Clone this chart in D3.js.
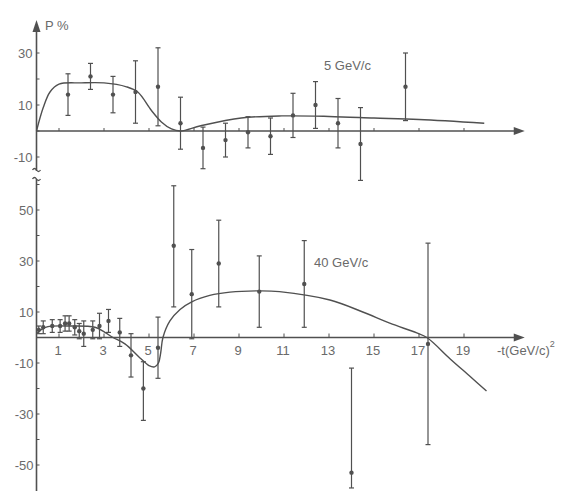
<!DOCTYPE html>
<html><head><meta charset="utf-8">
<script src="https://cdn.jsdelivr.net/npm/d3@7"></script>
<style>
html,body{margin:0;padding:0;background:#fff;}
text{font-family:"Liberation Sans","DejaVu Sans",sans-serif;fill:#6a6a6a;}
</style></head>
<body>
<svg id="c" width="561" height="491"></svg>
<script>
// ---- data: 5 GeV/c (upper panel)
const upperT   = [1.4, 2.4, 3.4, 4.4, 5.4, 6.4, 7.4, 8.4, 9.4, 10.4, 11.4, 12.4, 13.4, 14.4, 16.4];
const upperP   = [14, 21, 14, 15, 17, 3, -6.5, -3.5, -0.5, -2, 6, 10, 3, -5, 17];
const upperErr = [8, 5, 7, 12, 15, 10, 8, 6.5, 6, 7, 8.5, 9, 9.5, 14, 13];
const upperCurveT = [0, 0.3, 0.6, 1, 2, 3, 4, 4.5, 5.1, 5.55, 6, 6.4, 7.3, 9.1, 10.9, 13, 15, 17, 19.9];
const upperCurveP = [0, 9, 15, 18, 18.5, 18.5, 17, 15, 8, 3.5, 0.8, 0, 2, 5, 5.8, 5.6, 5, 4.4, 3];
// ---- data: 40 GeV/c (lower panel)
const lowerT     = [0.1, 0.3, 0.7, 1.05, 1.27, 1.45, 1.7, 1.9, 2.1, 2.5, 2.8, 3.2, 3.7, 4.2, 4.75, 5.4, 6.1, 6.9, 8.1, 9.9, 11.9, 14.0, 17.4];
const lowerP     = [3, 4, 4.5, 4.5, 5.5, 5.5, 4, 2.5, 1.5, 3, 4.5, 6.5, 2, -7, -20, -4, 36, 17, 29, 18, 21, -53, -2.5];
const lowerErrUp = [1.5, 2.5, 2.5, 2.5, 3, 3, 3, 3, 5, 3.5, 5, 4.5, 5.5, 8.5, 10.5, 12, 23.5, 17.5, 17, 14, 17, 41, 39.5];
const lowerErrDn = [1.5, 2.5, 2.5, 2.5, 3, 3, 3, 3, 5, 3.5, 5, 4.5, 5.5, 8.5, 12.5, 12, 24, 17.5, 17, 14, 17, 6, 39.5];
const lowerCurveT = [0, 0.4, 1.5, 2.6, 3.04, 3.4, 3.93, 4.6, 5.0, 5.25, 5.42, 5.52, 5.62, 5.93, 6.38, 6.9, 7.7, 8.6, 9.9, 10.8, 13.04, 14.5, 15.7, 16.9, 17.35, 18.4, 19.3, 20.0];
const lowerCurveP = [1.5, 4, 4.5, 4, 2, 0, -2.5, -8, -11, -11.5, -10, -6, 0, 6.5, 11, 14, 16.5, 17.8, 18.3, 18, 14.7, 10, 5.6, 1.8, 0, -8.5, -15.5, -21];
const xTicks = [1, 3, 5, 7, 9, 11, 13, 15, 17, 19];
const upperYTicks = [30, 10, -10];
const upperYMinor = [30, 20, 10, 0, -10];
const lowerYTicks = [50, 30, 10, -10, -30, -50];
const lowerYMinor = [60, 50, 40, 30, 20, 10, -10, -20, -30, -40, -50];

const svg = d3.select("#c");
const ink = "#505050";
const x = d3.scaleLinear().domain([0, 19]).range([36.5, 464]);
const yU = d3.scaleLinear().domain([-10, 30]).range([157, 53]);
const yL = d3.scaleLinear().domain([-50, 50]).range([465, 210]);
const x0 = x(0);

function arrowRight(y){
  svg.append("path").attr("d", `M${x(21.7)},${y} l-11,-4 l0,8 z`).attr("fill", ink);
}

// ---------- upper panel ----------
const gU = svg.append("g");
gU.append("line").attr("x1", x0).attr("x2", x(21.5)).attr("y1", yU(0)).attr("y2", yU(0)).attr("stroke", ink).attr("stroke-width", 1.6);
arrowRight(yU(0));
gU.append("line").attr("x1", x0).attr("x2", x0).attr("y1", 25).attr("y2", 171).attr("stroke", ink).attr("stroke-width", 1.6);
svg.append("path").attr("d", `M${x0},20 l-4,12 l8,0 z`).attr("fill", ink);
gU.selectAll(".ym").data(upperYMinor).join("line").attr("x1", x0).attr("x2", x0 + 3).attr("y1", d => yU(d)).attr("y2", d => yU(d)).attr("stroke", ink);
gU.selectAll(".yl").data(upperYTicks).join("text").attr("x", x0 - 4).attr("y", d => yU(d)).attr("dy", "0.35em").attr("text-anchor", "end").attr("font-size", 13).text(d => d);
gU.selectAll(".xt").data(xTicks).join("line").attr("x1", d => x(d)).attr("x2", d => x(d)).attr("y1", yU(0)).attr("y2", yU(0) - 3).attr("stroke", ink);
svg.append("text").attr("x", 45).attr("y", 30).attr("font-size", 13).text("P %");
svg.append("text").attr("x", 324).attr("y", 70).attr("font-size", 13).text("5 GeV/c");

const line = (xs, ys) => d3.line().curve(d3.curveCatmullRom.alpha(0.5)).x(d => xs(d[0])).y(d => ys(d[1]));
gU.append("path").datum(upperCurveT.map((t, i) => [t, upperCurveP[i]])).attr("d", line(x, yU)).attr("fill", "none").attr("stroke", ink).attr("stroke-width", 1.4);

function errorBars(g, ts, ps, up, dn, ys){
  ts.forEach((t, i) => {
    const cx = x(t), top = ys(ps[i] + up[i]), bot = ys(ps[i] - dn[i]);
    g.append("line").attr("x1", cx).attr("x2", cx).attr("y1", top).attr("y2", bot).attr("stroke", ink).attr("stroke-width", 1.2);
    g.append("line").attr("x1", cx - 2.5).attr("x2", cx + 2.5).attr("y1", top).attr("y2", top).attr("stroke", ink).attr("stroke-width", 1.2);
    g.append("line").attr("x1", cx - 2.5).attr("x2", cx + 2.5).attr("y1", bot).attr("y2", bot).attr("stroke", ink).attr("stroke-width", 1.2);
    g.append("circle").attr("cx", cx).attr("cy", ys(ps[i])).attr("r", 2.2).attr("fill", ink);
  });
}
errorBars(gU, upperT, upperP, upperErr, upperErr, yU);

// break marks
svg.append("path").attr("d", `M${x0-4},170 q2,-3 4,0 q2,3 4,0`).attr("fill", "none").attr("stroke", ink).attr("stroke-width", 1.3);
svg.append("path").attr("d", `M${x0-4},179 q2,-3 4,0 q2,3 4,0`).attr("fill", "none").attr("stroke", ink).attr("stroke-width", 1.3);

// ---------- lower panel ----------
const gL = svg.append("g");
gL.append("line").attr("x1", x0).attr("x2", x0).attr("y1", 179).attr("y2", 491).attr("stroke", ink).attr("stroke-width", 1.6);
gL.append("line").attr("x1", x0).attr("x2", x(21.5)).attr("y1", yL(0)).attr("y2", yL(0)).attr("stroke", ink).attr("stroke-width", 1.6);
arrowRight(yL(0));
gL.selectAll(".ym").data(lowerYMinor).join("line").attr("x1", x0).attr("x2", x0 + 3).attr("y1", d => yL(d)).attr("y2", d => yL(d)).attr("stroke", ink);
gL.selectAll(".yl").data(lowerYTicks).join("text").attr("x", x0 - 3).attr("y", d => yL(d)).attr("dy", "0.35em").attr("text-anchor", "end").attr("font-size", 13).text(d => d);
gL.selectAll(".xt").data(xTicks).join("line").attr("x1", d => x(d)).attr("x2", d => x(d)).attr("y1", yL(0)).attr("y2", yL(0) - 4).attr("stroke", ink);
gL.selectAll(".xl").data(xTicks).join("text").attr("x", d => x(d) - 1).attr("y", yL(0) + 17).attr("text-anchor", "middle").attr("font-size", 13).text(d => d);
const xl = svg.append("text").attr("x", 497).attr("y", yL(0) + 17).attr("font-size", 13);
xl.append("tspan").text("-t(GeV/c)");
xl.append("tspan").attr("dy", -8).attr("font-size", 9).text("2");
svg.append("text").attr("x", 314).attr("y", 267).attr("font-size", 13).text("40 GeV/c");

gL.append("path").datum(lowerCurveT.map((t, i) => [t, lowerCurveP[i]])).attr("d", line(x, yL)).attr("fill", "none").attr("stroke", ink).attr("stroke-width", 1.4);
errorBars(gL, lowerT, lowerP, lowerErrUp, lowerErrDn, yL);
</script>
</body></html>
